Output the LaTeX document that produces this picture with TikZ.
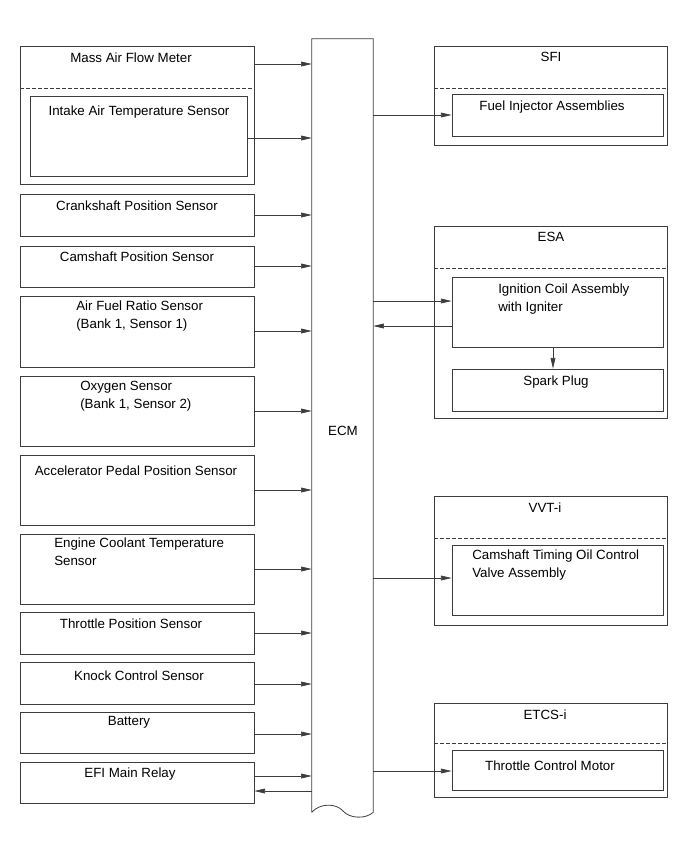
\documentclass[tikz,border=0pt]{standalone}
\usepackage{fontspec}
\setmainfont{Liberation Sans}
\usepackage{tikz}
\usetikzlibrary{arrows.meta,fit}
\definecolor{cLinie}{RGB}{60,60,60}

\begin{document}
\begin{tikzpicture}[x=0.75pt,y=-0.75pt,font=\fontsize{10}{13.5}\selectfont,
  box/.style={draw=cLinie,line width=0.6pt,inner sep=0pt},
  trenn/.style={draw=cLinie,line width=0.5pt,dash pattern=on 3pt off 1.5pt},
  pfeil/.style={draw=cLinie,line width=0.5pt,-{Triangle[length=8pt,width=3.6pt]}},
  txt/.style={inner sep=0pt,align=left}]
\useasboundingbox (0,0) rectangle (691,854);
\node[inner sep=0pt,fit={(312,39) (373,812)}] (ecm) {};
\draw[box] (ecm.south west)--(ecm.north west)--(ecm.north east)--(ecm.south east)
  .. controls (366,819) and (350,819) .. (343,811) .. controls (336,803) and (320,803) .. (ecm.south west);
\node (ecmT) at (343,431) {ECM};
\node[box,fit={(20,46) (254,184)}] (maf) {}; \node[txt] (mafT) at (131,58) {Mass Air Flow Meter};
\draw[trenn] (maf.west |- 0,88)--(maf.east |- 0,88);
\node[box,fit={(30,96) (247,176)}] (iat) {}; \node[txt] (iatT) at (139,112) {Intake Air Temperature Sensor};
\draw[pfeil] (maf.east |- 0,64)--(ecm.west |- 0,64);
\draw[pfeil] (iat.east |- 0,138)--(ecm.west |- 0,138);
\node[box,fit={(20,194) (254,236)}] (crank) {}; \node[txt] (crankT) at (137,206) {Crankshaft Position Sensor};
\draw[pfeil] (crank.east |- 0,215)--(ecm.west |- 0,215);
\node[box,fit={(20,246) (254,287)}] (cam) {}; \node[txt] (camT) at (137,257) {Camshaft Position Sensor};
\draw[pfeil] (cam.east |- 0,266)--(ecm.west |- 0,266);
\node[box,fit={(20,296) (254,367)}] (afr) {}; \node[txt,anchor=west] (afrT) at (76,316) {Air Fuel Ratio Sensor\\(Bank 1, Sensor 1)};
\draw[pfeil] (afr.east |- 0,331)--(ecm.west |- 0,331);
\node[box,fit={(20,376) (254,446)}] (oxs) {}; \node[txt,anchor=west] (oxsT) at (80,396) {Oxygen Sensor\\(Bank 1, Sensor 2)};
\draw[pfeil] (oxs.east |- 0,411)--(ecm.west |- 0,411);
\node[box,fit={(20,455) (254,525)}] (app) {}; \node[txt] (appT) at (136,471) {Accelerator Pedal Position Sensor};
\draw[pfeil] (app.east |- 0,490)--(ecm.west |- 0,490);
\node[box,fit={(20,534) (254,604)}] (ect) {}; \node[txt,anchor=west] (ectT) at (54,552) {Engine Coolant Temperature\\Sensor};
\draw[pfeil] (ect.east |- 0,569)--(ecm.west |- 0,569);
\node[box,fit={(20,612) (254,654)}] (tps) {}; \node[txt] (tpsT) at (131,624) {Throttle Position Sensor};
\draw[pfeil] (tps.east |- 0,633)--(ecm.west |- 0,633);
\node[box,fit={(20,662) (254,704)}] (kcs) {}; \node[txt] (kcsT) at (139,676) {Knock Control Sensor};
\draw[pfeil] (kcs.east |- 0,684)--(ecm.west |- 0,684);
\node[box,fit={(20,712) (254,753)}] (batt) {}; \node[txt] (battT) at (129,722) {Battery};
\draw[pfeil] (batt.east |- 0,734)--(ecm.west |- 0,734);
\node[box,fit={(20,762) (254,803)}] (efi) {}; \node[txt] (efiT) at (130,774) {EFI Main Relay};
\draw[pfeil] (efi.east |- 0,776)--(ecm.west |- 0,776);
\draw[pfeil] (ecm.west |- 0,791)--(efi.east |- 0,791);
\node[box,fit={(434,46) (667,145)}] (sfi) {}; \node[txt] (sfiT) at (551,57) {SFI};
\draw[trenn] (sfi.west |- 0,88)--(sfi.east |- 0,88);
\node[box,fit={(452,94) (663,136)}] (inj) {}; \node[txt] (injT) at (552,107) {Fuel Injector Assemblies};
\draw[pfeil] (ecm.east |- 0,115)--(inj.west |- 0,115);
\node[box,fit={(434,226) (667,418)}] (esa) {}; \node[txt] (esaT) at (551,237) {ESA};
\draw[trenn] (esa.west |- 0,268)--(esa.east |- 0,268);
\node[box,fit={(452,277) (663,347)}] (ign) {}; \node[txt,anchor=west] (ignT) at (498,299) {Ignition Coil Assembly\\with Igniter};
\draw[pfeil] (ecm.east |- 0,301)--(ign.west |- 0,301);
\draw[pfeil] (ign.west |- 0,326)--(ecm.east |- 0,326);
\node[box,fit={(452,369) (663,411)}] (spark) {}; \node[txt] (sparkT) at (556,382) {Spark Plug};
\draw[pfeil] (ign.south -| 553,0)--(spark.north -| 553,0);
\node[box,fit={(434,496) (667,625)}] (vvt) {}; \node[txt] (vvtT) at (545,508) {VVT-i};
\draw[trenn] (vvt.west |- 0,538)--(vvt.east |- 0,538);
\node[box,fit={(452,545) (663,615)}] (ocv) {}; \node[txt,anchor=west] (ocvT) at (472,565) {Camshaft Timing Oil Control\\Valve Assembly};
\draw[pfeil] (ecm.east |- 0,578)--(ocv.west |- 0,578);
\node[box,fit={(434,703) (667,797)}] (etcs) {}; \node[txt] (etcsT) at (545,715) {ETCS-i};
\draw[trenn] (etcs.west |- 0,743)--(etcs.east |- 0,743);
\node[box,fit={(452,750) (663,790)}] (tcm) {}; \node[txt] (tcmT) at (550,766) {Throttle Control Motor};
\draw[pfeil] (ecm.east |- 0,771)--(tcm.west |- 0,771);
\end{tikzpicture}
\end{document}
